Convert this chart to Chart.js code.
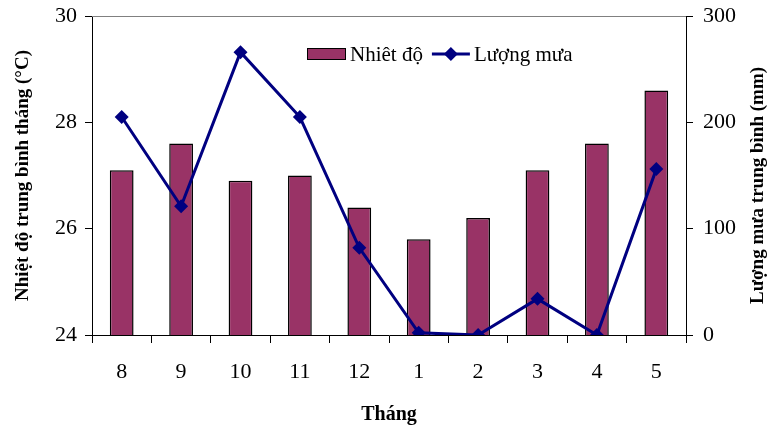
<!DOCTYPE html>
<html>
<head>
<meta charset="utf-8">
<script src="https://cdn.jsdelivr.net/npm/chart.js@4/dist/chart.umd.min.js"></script>
<style>
  html, body { margin: 0; padding: 0; background: #fff; }
  #wrap { width: 768px; height: 427px; position: relative; }
</style>
</head>
<body>
<div id="wrap"><canvas id="rainTempChart" width="768" height="427"></canvas></div>
<script>
//
// Data
var months = ['8', '9', '10', '11', '12', '1', '2', '3', '4', '5'];
var temperature = [27.1, 27.6, 26.9, 27.0, 26.4, 25.8, 26.2, 27.1, 27.6, 28.6];
var rainfall = [205, 121, 266, 205, 82, 2, 0, 34, 0, 156];
var temp_ticks = [24, 26, 28, 30];
var rain_ticks = [0, 100, 200, 300];

var serif = "'Liberation Serif', 'Times New Roman', serif";
var bar_color = '#993366';
var line_color = '#000080';

//
// Extra drawing: top border, right title, legend inside the plot
var extras = {
  id: 'extras',
  afterDraw: function(chart){
    var ctx = chart.ctx;
    var area = chart.chartArea;
    ctx.save();

    // top border of plot area
    ctx.strokeStyle = '#808080';
    ctx.lineWidth = 1;
    ctx.beginPath();
    ctx.moveTo(area.left, area.top + 0.5);
    ctx.lineTo(area.right, area.top + 0.5);
    ctx.stroke();

    // right axis title, reading bottom to top
    ctx.fillStyle = '#000';
    ctx.font = 'bold 19px ' + serif;
    ctx.textAlign = 'center';
    ctx.textBaseline = 'middle';
    ctx.translate(758, (area.top + area.bottom) / 2 + 10);
    ctx.rotate(-Math.PI / 2);
    ctx.fillText('Lượng mưa trung bình (mm)', 0, 0);
    ctx.restore();

    // legend
    ctx.save();
    var ds = chart.data.datasets;
    var lx = 307, ly = 54;
    ctx.fillStyle = bar_color;
    ctx.strokeStyle = '#000';
    ctx.lineWidth = 1;
    ctx.fillRect(lx, ly - 6, 39, 12);
    ctx.strokeRect(lx + 0.5, ly - 5.5, 38, 11);
    ctx.fillStyle = '#000';
    ctx.font = '21px ' + serif;
    ctx.textAlign = 'left';
    ctx.textBaseline = 'middle';
    ctx.fillText(ds[1].label, lx + 43, ly + 1);
    var w = ctx.measureText(ds[1].label).width;
    var sx = lx + 43 + w + 9;
    ctx.strokeStyle = line_color;
    ctx.lineWidth = 3;
    ctx.beginPath();
    ctx.moveTo(sx, ly);
    ctx.lineTo(sx + 38, ly);
    ctx.stroke();
    ctx.fillStyle = line_color;
    ctx.beginPath();
    ctx.moveTo(sx + 19, ly - 7);
    ctx.lineTo(sx + 26, ly);
    ctx.lineTo(sx + 19, ly + 7);
    ctx.lineTo(sx + 12, ly);
    ctx.closePath();
    ctx.fill();
    ctx.fillStyle = '#000';
    ctx.fillText(ds[0].label, sx + 42, ly + 1);
    ctx.restore();
  }
};

var ctx = document.getElementById('rainTempChart').getContext('2d');

new Chart(ctx, {
  type: 'bar',
  data: {
    labels: months,
    datasets: [{
      type: 'line',
      label: 'Lượng mưa',
      data: rainfall,
      yAxisID: 'yRain',
      borderColor: line_color,
      backgroundColor: line_color,
      borderWidth: 3,
      pointStyle: 'rectRot',
      pointRadius: 7,
      pointBorderWidth: 0,
      tension: 0,
      order: 0
    }, {
      type: 'bar',
      label: 'Nhiêt độ',
      data: temperature,
      yAxisID: 'yTemp',
      backgroundColor: bar_color,
      borderColor: '#000',
      borderWidth: 1.5,
      barPercentage: 0.4,
      categoryPercentage: 1,
      order: 1
    }]
  },
  options: {
    responsive: false,
    animation: false,
    layout: {
      padding: { top: 16, left: 0, right: 0, bottom: 0 }
    },
    plugins: {
      legend: { display: false },
      tooltip: { enabled: false }
    },
    scales: {
      x: {
        offset: true,
        grid: {
          offset: true,
          drawOnChartArea: false,
          drawTicks: true,
          tickLength: 8,
          color: '#000'
        },
        border: { color: '#000', width: 1 },
        ticks: {
          color: '#000',
          padding: 16,
          font: { family: serif, size: 22 },
          maxRotation: 0
        },
        title: {
          display: true,
          text: 'Tháng',
          color: '#000',
          font: { family: serif, size: 20, weight: 'bold' },
          padding: { top: 8, bottom: 0 }
        },
        afterFit: function(scale){ scale.height = 427 - 335; }
      },
      yTemp: {
        position: 'left',
        min: 24,
        max: 30,
        afterBuildTicks: function(scale){
          scale.ticks = temp_ticks.map(function(v){ return { value: v }; });
        },
        grid: {
          drawOnChartArea: false,
          drawTicks: true,
          tickLength: 7,
          color: '#000'
        },
        border: { color: '#000', width: 1 },
        ticks: {
          color: '#000',
          padding: 8,
          font: { family: serif, size: 22 }
        },
        title: {
          display: true,
          text: 'Nhiệt độ trung bình tháng (°C)',
          color: '#000',
          font: { family: serif, size: 19, weight: 'bold' },
          padding: { top: 12, bottom: 0 }
        },
        afterFit: function(scale){
          scale.width = 92;
          scale.paddingTop = 0;
          scale.paddingBottom = 0;
        }
      },
      yRain: {
        position: 'right',
        min: 0,
        max: 300,
        afterBuildTicks: function(scale){
          scale.ticks = rain_ticks.map(function(v){ return { value: v }; });
        },
        grid: {
          drawOnChartArea: false,
          drawTicks: true,
          tickLength: 7,
          color: '#000'
        },
        border: { color: '#000', width: 1 },
        ticks: {
          color: '#000',
          padding: 10,
          font: { family: serif, size: 22 }
        },
        afterFit: function(scale){
          scale.width = 768 - 686;
          scale.paddingTop = 0;
          scale.paddingBottom = 0;
        }
      }
    }
  },
  plugins: [extras]
});
</script>
</body>
</html>
